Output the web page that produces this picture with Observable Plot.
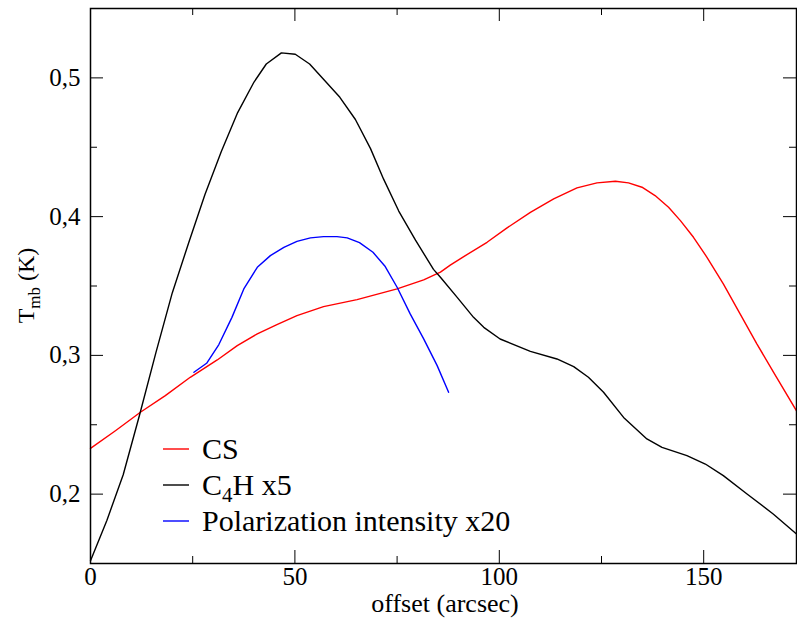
<!DOCTYPE html>
<html><head><meta charset="utf-8">
<script src="https://cdn.jsdelivr.net/npm/d3@7"></script>
<script src="https://cdn.jsdelivr.net/npm/@observablehq/plot@0.6"></script>
<style>body{margin:0;background:#fff;} svg{display:block} svg text{font-family:"Liberation Serif","DejaVu Serif","Times New Roman",Times,serif;}</style>
</head><body><div id="chart"></div>
<script>
// ---- data ----
const seriesNames = ["CS", "C4H x5", "Polarization intensity x20"];
const seriesColors = ["#ff0000", "#000000", "#0000ff"];

const csX = [0, 6.1, 12.2, 18.3, 24.4, 31, 35.9, 40.8, 45.6, 50.5, 57, 65.2, 75, 81.5, 85.6, 88, 91.3, 97, 101.9, 107.6, 113.3, 119, 123.9, 128.4, 131.6, 134.9, 138.1, 141.4, 144.3, 147.5, 150.8, 154.8, 158.9, 163, 167.1, 172.7];
const csY = [0.233, 0.2457, 0.259, 0.271, 0.2842, 0.2967, 0.307, 0.3155, 0.3222, 0.3287, 0.3351, 0.3402, 0.3479, 0.3544, 0.3600, 0.3650, 0.3712, 0.3815, 0.3919, 0.4031, 0.4128, 0.4207, 0.4243, 0.4255, 0.4243, 0.4212, 0.4152, 0.4067, 0.3971, 0.3851, 0.3707, 0.3515, 0.3299, 0.3083, 0.2878, 0.2600];

const c4hX = [0, 4, 8, 12, 16, 20, 24, 28, 32, 36, 40, 43, 46.7, 50.1, 53.6, 57, 61, 64.8, 68.5, 71.7, 75.4, 79.5, 83.9, 85.6, 89.7, 93.7, 96.2, 100.2, 107.6, 114.1, 118.2, 121.8, 125.5, 130.4, 136.1, 139.8, 145.9, 150.4, 154.8, 160.6, 167, 172.7];
const c4hY = [0.152, 0.181, 0.214, 0.257, 0.302, 0.345, 0.381, 0.416, 0.447, 0.475, 0.497, 0.510, 0.518, 0.517, 0.510, 0.499, 0.486, 0.470, 0.449, 0.427, 0.404, 0.383, 0.362, 0.3563, 0.3418, 0.3274, 0.3202, 0.3118, 0.3029, 0.2974, 0.2919, 0.2842, 0.2734, 0.2553, 0.2398, 0.2337, 0.2277, 0.2217, 0.2133, 0.2001, 0.1857, 0.1713];

const polX = [25.3, 28.4, 31.4, 34.6, 37.5, 40.8, 44, 47.3, 50.5, 53.8, 57, 60.3, 62.8, 65.8, 69.1, 72.1, 75, 78.2, 81.5, 84.8, 87.6];
const polY = [0.2878, 0.2943, 0.3078, 0.3274, 0.3479, 0.3635, 0.3719, 0.3779, 0.3822, 0.3847, 0.3856, 0.3856, 0.3847, 0.3813, 0.3743, 0.364, 0.3491, 0.3299, 0.3119, 0.2926, 0.2734];

const xMajor = [0, 50, 100, 150];
const xMinor = [25, 75, 125];
const yMajor = [0.2, 0.3, 0.4, 0.5];
const yMinor = [0.25, 0.35, 0.45];
const xDomain = [0, 172.7];
const yDomain = [0.15, 0.55];
const xLabel = "offset (arcsec)";

// ---- build table ----
const table = [];
[[csX, csY], [c4hX, c4hY], [polX, polY]].forEach(([xs, ys], i) => {
  xs.forEach((x, j) => table.push({series: seriesNames[i], x, y: ys[j]}));
});

const W = 797, H = 619, mL = 90, mR = 1, mT = 8, mB = 56;
const fw = W - mL - mR, fh = H - mT - mB;
const font = '"Liberation Serif","DejaVu Serif","Times New Roman",Times,serif';
const MAJ = 13, MIN = 7;

const chart = Plot.plot({
  width: W, height: H,
  marginLeft: mL, marginRight: mR, marginTop: mT, marginBottom: mB,
  x: {domain: xDomain},
  y: {domain: yDomain},
  color: {domain: seriesNames, range: seriesColors},
  style: {fontFamily: font, background: "white", color: "black"},
  marks: [
    Plot.line(table, {x: "x", y: "y", z: "series", stroke: "series", strokeWidth: 1.4}),
    Plot.frame({stroke: "black", strokeWidth: 1.5}),
    Plot.tickX(xMajor, {x: d => d, insetTop: fh - MAJ, strokeWidth: 1}),
    Plot.tickX(xMajor, {x: d => d, insetBottom: fh - MAJ, strokeWidth: 1}),
    Plot.tickX(xMinor, {x: d => d, insetTop: fh - MIN, strokeWidth: 1}),
    Plot.tickX(xMinor, {x: d => d, insetBottom: fh - MIN, strokeWidth: 1}),
    Plot.tickY(yMajor, {y: d => d, insetRight: fw - MAJ, strokeWidth: 1}),
    Plot.tickY(yMajor, {y: d => d, insetLeft: fw - MAJ, strokeWidth: 1}),
    Plot.tickY(yMinor, {y: d => d, insetRight: fw - MIN, strokeWidth: 1}),
    Plot.tickY(yMinor, {y: d => d, insetLeft: fw - MIN, strokeWidth: 1}),
    Plot.axisX({ticks: xMajor, tickSize: 0, tickPadding: 4, fontSize: 25, label: null, tickFormat: d => String(d)}),
    Plot.axisY({ticks: yMajor, tickSize: 0, tickPadding: 10, fontSize: 25, label: null, tickFormat: d => d.toFixed(1).replace(".", ",")})
  ]
});

document.getElementById("chart").appendChild(chart);

// ---- axis labels & legend (real text, with subscripts) ----
const svg = d3.select(chart);
svg.append("text")
  .attr("x", 445).attr("y", 612)
  .attr("text-anchor", "middle")
  .attr("font-size", 26)
  .text(xLabel);

const yl = svg.append("text")
  .attr("transform", `translate(34, ${mT + fh / 2}) rotate(-90)`)
  .attr("text-anchor", "middle")
  .attr("font-size", 24);
yl.append("tspan").text("T");
yl.append("tspan").attr("font-size", 17).attr("dy", 6).text("mb");
yl.append("tspan").attr("dy", -6).text(" (K)");

const leg = svg.append("g").attr("font-size", 30).attr("text-anchor", "start");
const legY = [449, 485, 521];
seriesNames.forEach((name, i) => {
  leg.append("line").attr("x1", 163).attr("x2", 189)
    .attr("y1", legY[i]).attr("y2", legY[i])
    .attr("stroke", seriesColors[i]).attr("stroke-width", 1.4);
  const t = leg.append("text").attr("x", 202).attr("y", legY[i] + 10).attr("text-anchor", "start");
  if (name.startsWith("C4H")) {
    t.append("tspan").text("C");
    t.append("tspan").attr("font-size", 21).attr("dy", 7).text("4");
    t.append("tspan").attr("dy", -7).text(name.slice(2));
  } else {
    t.text(name);
  }
});
</script>
</body></html>
